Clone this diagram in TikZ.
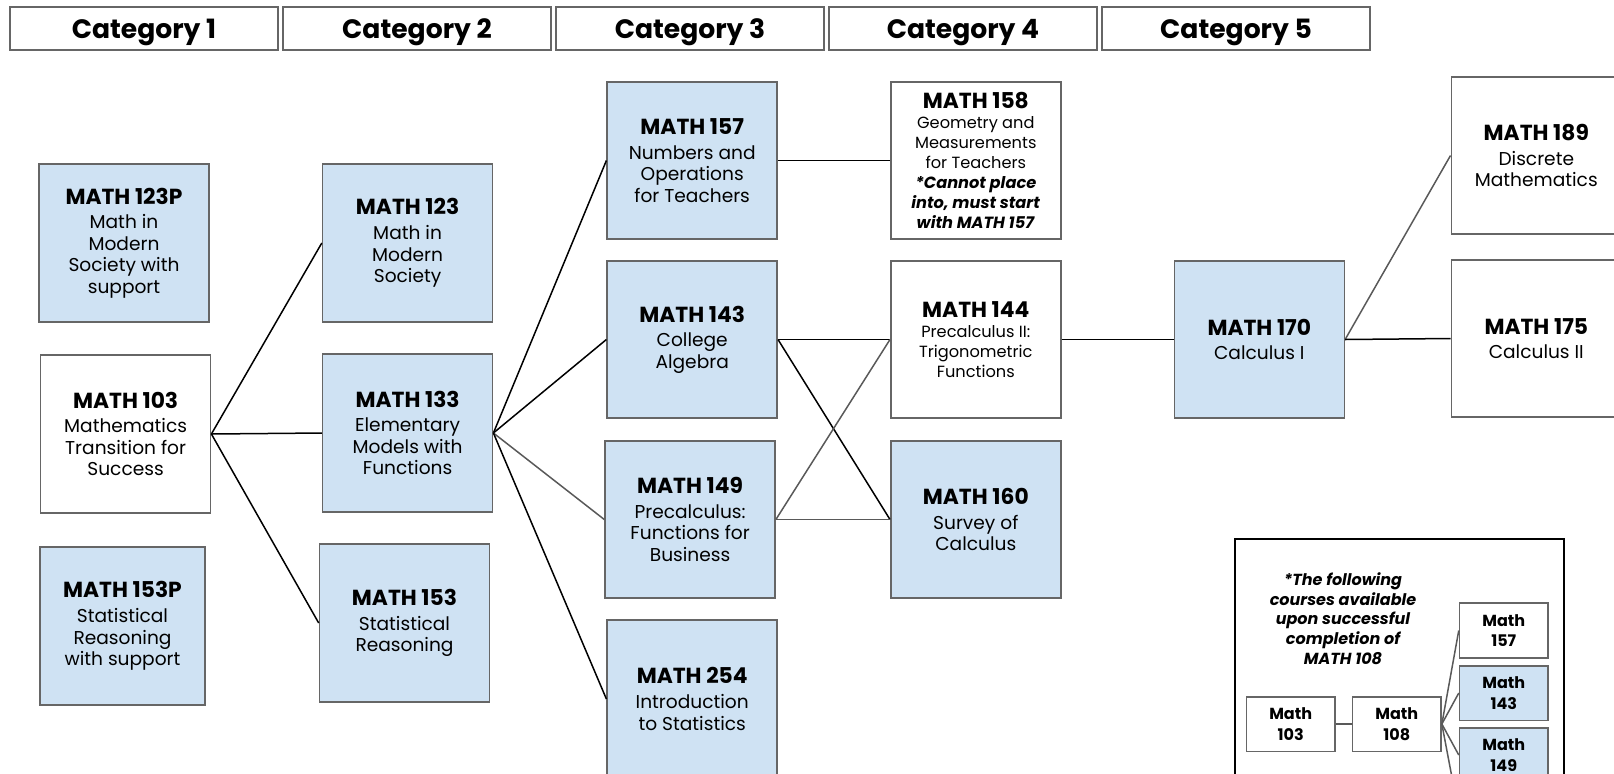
\documentclass[tikz,border=0pt]{standalone}
\usepackage{fontspec}
\setmainfont{Poppins}
\usetikzlibrary{positioning}
\definecolor{boxblue}{HTML}{CFE2F3}
\definecolor{edgegray}{HTML}{666666}
\definecolor{linegray}{HTML}{595959}
\newcommand{\ctitle}[1]{{\fontsize{10.9}{12}\selectfont\bfseries #1}}

\begin{document}
\begin{tikzpicture}[x=0.5pt, y=-0.5pt,
  course/.style={draw=edgegray, line width=0.8pt, fill=white, minimum width=85pt, minimum height=78.75pt, inner sep=0pt, align=center, font=\fontsize{9.3}{10.8}\selectfont},
  placed/.style={course, fill=boxblue},
  small/.style={font=\fontsize{8.1}{10}\selectfont},
  header/.style={draw=edgegray, line width=0.8pt, minimum width=134pt, minimum height=21.5pt, inner sep=0pt, text depth=0pt, font=\fontsize{13.3}{14}\selectfont\bfseries},
  mini/.style={draw=edgegray, line width=0.8pt, fill=white, minimum width=44.25pt, minimum height=27.3pt, inner sep=0pt, align=center, font=\fontsize{8}{10.3}\selectfont\bfseries},
  link/.style={black, line width=0.75pt},
  glink/.style={linegray, line width=0.75pt}]
\useasboundingbox (0,0) rectangle (1614,773);
\clip (0,0) rectangle (1614,773);

% category headers
\foreach \i in {1,...,5}
  \node[header] (cat\i) at ({144+273*(\i-1)}, 28.5) {Category \i};

% category 1
\node[placed] (m123p) at (124, 243) {\ctitle{MATH 123P}\\[1.5pt] Math in\\ Modern\\ Society with\\ support};
\node[course] (m103) at (125.6, 434) {\ctitle{MATH 103}\\[1.5pt] Mathematics\\ Transition for\\ Success};
\node[placed, minimum width=82.5pt] (m153p) at (122.5, 626) {\ctitle{MATH 153P}\\[1.5pt] Statistical\\ Reasoning\\ with support};

% category 2
\node[placed] (m123) at (407.6, 243) {\ctitle{MATH 123}\\[1.5pt] Math in\\ Modern\\ Society};
\node[placed] (m133) at (407.6, 433) {\ctitle{MATH 133}\\[1.5pt] Elementary\\ Models with\\ Functions};
\node[placed] (m153) at (404.5, 623) {\ctitle{MATH 153}\\[1.5pt] Statistical\\ Reasoning};

% category 3
\node[placed] (m157) at (692.2, 160.5) {\ctitle{MATH 157}\\[1.5pt] Numbers and\\ Operations\\ for Teachers};
\node[placed] (m143) at (692.2, 339.5) {\ctitle{MATH 143}\\[1.5pt] College\\ Algebra};
\node[placed] (m149) at (690.1, 519.5) {\ctitle{MATH 149}\\[1.5pt] Precalculus:\\ Functions for\\ Business};
\node[placed] (m254) at (692.2, 699) {\ctitle{MATH 254}\\[1.5pt] Introduction\\ to Statistics};

% category 4
\node[course, small] (m158) at (975.8, 160.5) {\ctitle{MATH 158}\\ Geometry and\\ Measurements\\ for Teachers\\ \textbf{\textit{*Cannot place}}\\ \textbf{\textit{into, must start}}\\ \textbf{\textit{with MATH 157}}};
\node[course, small] (m144) at (975.8, 339.5) {\ctitle{MATH 144}\\ Precalculus II:\\ Trigonometric\\ Functions};
\node[placed] (m160) at (975.8, 519.5) {\ctitle{MATH 160}\\[1.5pt] Survey of\\ Calculus};

% category 5 and beyond
\node[placed] (m170) at (1259.3, 339.5) {\ctitle{MATH 170}\\[1.5pt] Calculus I};
\node[course] (m189) at (1536.3, 155.5) {\ctitle{MATH 189}\\[1.5pt] Discrete\\ Mathematics};
\node[course] (m175) at (1536.3, 338.5) {\ctitle{MATH 175}\\[1.5pt] Calculus II};

\draw[link] (m103.east) -- (m123.west);
\draw[link] (m103.east) -- (m133.west);
\draw[link] (m103.east) -- (m153.west);
\draw[link] (m133.east) -- (m157.west);
\draw[link] (m133.east) -- (m143.west);
\draw[glink] (m133.east) -- (m149.west);
\draw[link] (m133.east) -- (m254.west);
\draw[link] (m157.east) -- (m158.west);
\draw[link] (m143.east) -- (m144.west);
\draw[link] (m143.east) -- (m160.west);
\draw[glink] (m149.east) -- (m144.west);
\draw[glink] (m149.east) -- (m160.west);
\draw[link] (m144.east) -- (m170.west);
\draw[glink] (m170.east) -- (m189.west);
\draw[link] (m170.east) -- (m175.west);

% MATH 108 inset
\node[draw=black, line width=1pt, minimum width=164.25pt, minimum height=150pt, anchor=north west] (inset) at (1234, 538.3) {};
\node[align=center, font=\fontsize{8}{9.9}\selectfont\bfseries\itshape] (note) at (1343, 618.5) {*The following\\ courses available\\ upon successful\\ completion of\\ MATH 108};
\node[mini] (s103) at (1290.7, 724) {Math\\ 103};
\node[mini] (s108) at (1396.8, 724) {Math\\ 108};
\node[mini] (s157) at (1503.8, 630.5) {Math\\ 157};
\node[mini, fill=boxblue] (s143) at (1503.8, 693) {Math\\ 143};
\node[mini, fill=boxblue] (s149) at (1503.8, 755) {Math\\ 149};
\coordinate (s4) at (1459.5, 817);
\draw[glink] (s103.east) -- (s108.west);
\draw[glink] (s108.east) -- (s157.west);
\draw[glink] (s108.east) -- (s143.west);
\draw[glink] (s108.east) -- (s149.west);
\draw[glink] (s108.east) -- (s4);
\end{tikzpicture}
\end{document}
